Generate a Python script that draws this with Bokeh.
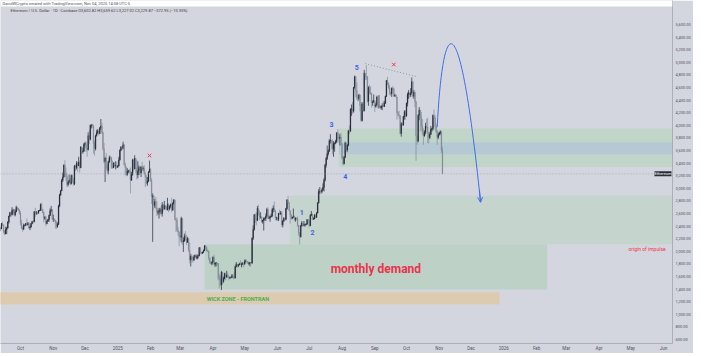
import pandas as pd
import numpy as np
from bokeh.plotting import figure
from bokeh.models import (ColumnDataSource, FixedTicker, NumeralTickFormatter, Span,
                          Label, Arrow, OpenHead, BoxAnnotation)
from bokeh.core.properties import value
from bokeh.embed import file_html
from bokeh.resources import INLINE

# ---------------- data: ETH/USD daily candles (Coinbase, 1D) ----------------
start_date = "2024-09-12"
first_open = 2360

close_sep24 = [2360,2440,2415,2315,2275,2345,2370,2465,2560,2615,2580,2645,2655,2580,2630,2695,2680,2660,2600]
high_sep24 = [2390,2450,2470,2430,2335,2390,2390,2480,2565,2625,2620,2700,2675,2670,2665,2725,2705,2690,2665]
low_sep24 = [2320,2350,2400,2290,2260,2270,2275,2360,2440,2545,2540,2570,2590,2560,2555,2620,2650,2640,2585]

close_oct24 = [2450,2365,2350,2415,2415,2440,2420,2440,2370,2385,2440,2475,2470,2630,2605,2610,2605,2645,2650,2745,2665,2620,2525,2535,2440,2480,2505,2570,2640,2660,2515]
high_oct24 = [2640,2500,2400,2440,2425,2450,2520,2465,2465,2410,2450,2485,2485,2640,2690,2640,2625,2655,2660,2760,2770,2675,2630,2560,2565,2500,2510,2580,2680,2720,2670]
low_oct24 = [2410,2350,2310,2340,2395,2400,2410,2410,2355,2335,2375,2430,2440,2460,2550,2580,2580,2600,2635,2640,2640,2600,2460,2500,2400,2430,2470,2465,2560,2620,2500]

close_nov24 = [2515,2495,2455,2395,2425,2720,2895,2960,3130,3180,3370,3245,3185,3060,3095,3130,3075,3205,3105,3070,3355,3330,3395,3360,3415,3325,3655,3580,3590,3700]
high_nov24 = [2585,2520,2495,2480,2460,2740,2915,2975,3150,3250,3380,3445,3330,3225,3120,3220,3160,3220,3215,3165,3370,3375,3430,3425,3500,3440,3670,3660,3640,3720]
low_nov24 = [2465,2480,2360,2355,2375,2420,2700,2880,2955,3100,3170,3210,3120,3020,3030,3080,3050,3060,3090,3040,3050,3275,3300,3260,3350,3250,3320,3550,3550,3580]

close_dec24 = [3710,3635,3615,3835,3780,4000,4005,4000,3710,3630,3835,3880,3910,3870,3960,3990,3885,3630,3425,3480,3330,3280,3420,3490,3485,3335,3330,3400,3355,3360,3335]
high_dec24 = [3740,3740,3640,3890,3920,4010,4020,4025,4010,3760,3850,3930,3940,3930,3970,4100,4040,3900,3720,3500,3560,3380,3440,3520,3520,3500,3440,3415,3410,3430,3420]
low_dec24 = [3660,3580,3500,3600,3700,3760,3950,3960,3550,3520,3600,3820,3860,3840,3860,3930,3865,3600,3400,3100,3310,3240,3220,3400,3440,3310,3310,3320,3340,3300,3320]

close_jan25 = [3355,3450,3605,3655,3635,3690,3380,3330,3220,3265,3280,3265,3130,3220,3450,3310,3475,3310,3215,3280,3330,3245,3340,3310,3315,3230,3180,3080,3115,3250,3300]
high_jan25 = [3370,3500,3620,3670,3670,3740,3700,3410,3350,3320,3295,3300,3330,3260,3470,3470,3525,3480,3450,3430,3360,3360,3350,3420,3350,3370,3260,3210,3180,3275,3440]
low_jan25 = [3325,3350,3440,3590,3610,3620,3360,3210,3190,3200,3240,3240,2920,3120,3200,3270,3300,3240,3140,3160,3210,3230,3180,3290,3270,3220,3020,3060,3040,3100,3260]

close_feb25 = [3120,2870,2880,2730,2785,2690,2620,2630,2630,2660,2600,2740,2675,2725,2690,2660,2745,2670,2715,2740,2660,2760,2815,2510,2495,2335,2305,2235]
high_feb25 = [3320,3160,2920,2890,2830,2860,2800,2660,2690,2690,2720,2780,2750,2800,2730,2720,2850,2760,2730,2760,2850,2780,2830,2820,2530,2540,2390,2320]
low_feb25 = [3100,2750,2150,2650,2690,2670,2560,2580,2520,2590,2570,2550,2640,2660,2660,2650,2650,2620,2650,2690,2620,2640,2740,2490,2310,2310,2250,2080]

close_mar25 = [2220,2520,2150,2170,2240,2200,2140,2200,2020,1865,1920,1910,1860,1910,1935,1890,1925,1930,2055,1985,1965,1985,2010,2085,2065,2010,2005,1895,1830,1805,1825]
high_mar25 = [2260,2550,2530,2220,2280,2320,2260,2230,2210,2140,1960,1950,1920,1940,1950,1945,1955,1940,2070,2070,1990,1995,2030,2100,2100,2080,2040,2010,1905,1850,1840]
low_mar25 = [2170,2140,2100,1990,2150,2170,2100,2140,1990,1810,1760,1830,1820,1850,1900,1880,1870,1885,1920,1960,1950,1960,1975,2005,2030,1995,1985,1860,1800,1790,1780]

close_apr25 = [1905,1795,1815,1815,1805,1580,1555,1470,1670,1525,1570,1645,1595,1625,1590,1575,1585,1585,1615,1585,1575,1755,1795,1770,1785,1800,1795,1800,1800,1795]
high_apr25 = [1920,1950,1825,1830,1820,1815,1640,1620,1690,1670,1600,1660,1660,1690,1660,1610,1600,1595,1640,1610,1660,1775,1830,1800,1800,1820,1860,1820,1830,1820]
low_apr25 = [1820,1780,1755,1760,1780,1540,1410,1450,1385,1470,1500,1555,1540,1580,1580,1540,1565,1570,1580,1560,1560,1570,1750,1740,1750,1780,1780,1745,1780,1745]

close_may25 = [1840,1840,1835,1805,1815,1820,1810,2210,2345,2580,2515,2495,2680,2610,2545,2545,2475,2490,2520,2525,2555,2665,2525,2530,2550,2565,2660,2680,2635,2530,2530]
high_may25 = [1870,1870,1850,1845,1830,1830,1830,2220,2410,2590,2600,2620,2720,2740,2650,2620,2560,2500,2540,2540,2600,2690,2700,2570,2560,2600,2690,2730,2790,2660,2550]
low_may25 = [1790,1825,1820,1800,1780,1760,1790,1810,2180,2330,2450,2410,2480,2570,2500,2520,2450,2440,2330,2490,2480,2550,2520,2510,2470,2540,2540,2620,2620,2500,2490]

close_jun25 = [2510,2605,2590,2610,2420,2480,2525,2510,2680,2815,2770,2645,2575,2525,2545,2550,2510,2525,2520,2410,2295,2230,2410,2450,2415,2420,2425,2435,2505,2485]
high_jun25 = [2540,2610,2660,2640,2640,2500,2540,2540,2690,2830,2880,2780,2650,2590,2550,2680,2570,2540,2540,2550,2420,2300,2420,2480,2460,2480,2440,2440,2510,2510]
low_jun25 = [2480,2480,2580,2580,2390,2380,2470,2490,2490,2660,2750,2640,2440,2500,2510,2530,2480,2470,2490,2390,2250,2110,2220,2390,2390,2400,2390,2410,2420,2460]

close_jul25 = [2405,2570,2590,2510,2515,2570,2540,2610,2770,2950,2955,2945,2975,3015,3130,3370,3475,3550,3590,3755,3760,3745,3620,3710,3715,3745,3880,3800,3795,3810,3700]
high_jul25 = [2490,2590,2640,2600,2540,2590,2590,2620,2780,2990,3020,2970,3000,3080,3160,3390,3500,3680,3620,3780,3860,3760,3780,3750,3730,3770,3890,3940,3880,3860,3880]
low_jul25 = [2380,2400,2560,2500,2500,2510,2520,2530,2600,2760,2910,2910,2920,2960,2950,3110,3330,3450,3520,3580,3710,3620,3540,3500,3580,3700,3720,3780,3730,3680,3680]

close_aug25 = [3480,3390,3495,3720,3610,3685,3910,3905,4255,4260,4225,4600,4770,4550,4440,4425,4480,4315,4075,4340,4230,4830,4780,4770,4380,4600,4510,4505,4360,4370,4390]
high_aug25 = [3720,3520,3510,3740,3730,3700,3930,4000,4270,4330,4370,4610,4790,4780,4680,4480,4500,4490,4360,4370,4370,4880,4830,4955,4780,4620,4640,4620,4520,4400,4490]
low_aug25 = [3460,3360,3380,3480,3570,3580,3670,3860,3900,4150,4180,4200,4580,4450,4400,4380,4390,4220,4060,4060,4210,4220,4720,4720,4360,4310,4500,4480,4280,4310,4360]

close_sep25 = [4300,4325,4450,4300,4300,4275,4305,4310,4300,4350,4460,4710,4670,4600,4520,4500,4590,4580,4470,4480,4450,4200,4165,4150,3870,4030,4010,4140,4215,4145]
high_sep25 = [4390,4360,4470,4460,4480,4320,4310,4350,4380,4390,4470,4720,4770,4680,4640,4520,4600,4620,4600,4500,4490,4450,4230,4230,4160,4050,4040,4150,4240,4240]
low_sep25 = [4210,4280,4320,4260,4270,4270,4250,4240,4290,4290,4340,4450,4640,4580,4480,4470,4450,4560,4450,4450,4440,4090,4140,4100,3860,3820,3990,3990,4090,4090]

close_oct25 = [4350,4490,4515,4480,4515,4690,4460,4525,4370,3835,3750,4155,4245,4125,3990,3885,3830,3890,3985,3975,3875,3805,3855,3935,3950,4160,4120,3980,3900,3810,3850]
high_oct25 = [4360,4520,4560,4520,4590,4760,4700,4560,4530,4390,3820,4180,4290,4240,4210,4100,3950,3920,4040,4100,4120,3900,3890,3990,3960,4170,4250,4160,4030,3930,3880]
low_oct25 = [4140,4300,4420,4440,4450,4500,4430,4420,4290,3435,3690,3730,4080,3900,3920,3840,3690,3820,3860,3950,3720,3710,3780,3850,3900,3920,4100,3930,3880,3690,3780]

close_nov25 = [3880,3895,3602.82,3229.87]
high_nov25 = [3900,3920,3910,3659.62]
low_nov25 = [3840,3850,3560,3227.02]

close = (close_sep24 + close_oct24 + close_nov24 + close_dec24 + close_jan25 + close_feb25 +
         close_mar25 + close_apr25 + close_may25 + close_jun25 + close_jul25 + close_aug25 +
         close_sep25 + close_oct25 + close_nov25)
high = (high_sep24 + high_oct24 + high_nov24 + high_dec24 + high_jan25 + high_feb25 +
        high_mar25 + high_apr25 + high_may25 + high_jun25 + high_jul25 + high_aug25 +
        high_sep25 + high_oct25 + high_nov25)
low = (low_sep24 + low_oct24 + low_nov24 + low_dec24 + low_jan25 + low_feb25 +
       low_mar25 + low_apr25 + low_may25 + low_jun25 + low_jul25 + low_aug25 +
       low_sep25 + low_oct25 + low_nov25)

# time axis
month_ticks = ["2024-10-01","2024-11-01","2024-12-01","2025-01-01","2025-02-01","2025-03-01",
               "2025-04-01","2025-05-01","2025-06-01","2025-07-01","2025-08-01","2025-09-01",
               "2025-10-01","2025-11-01","2025-12-01","2026-01-01","2026-02-01","2026-03-01",
               "2026-04-01","2026-05-01","2026-06-01"]
month_labels = ["Oct","Nov","Dec","2025","Feb","Mar","Apr","May","Jun","Jul","Aug","Sep",
                "Oct","Nov","Dec","2026","Feb","Mar","Apr","May","Jun"]
price_ticks = list(range(600, 5601, 200))

# drawn zones
zone_x0 = ["2024-09-01", "2025-03-24", "2025-06-13", "2025-07-29", "2025-07-29"]
zone_x1 = ["2025-12-28", "2026-02-11", "2026-08-01", "2026-08-01", "2026-08-01"]
zone_top = [1350, 2113, 2885, 3950, 3730]
zone_bottom = [1155, 1395, 2113, 3340, 3540]
zone_color = ["#dccbb0", "#bdd1c6", "#c6d4ce", "#c2d5c9", "#b4c9d3"]

# wave count labels
wave_text = ["1", "2", "3", "4", "5"]
wave_date = ["2025-06-24", "2025-07-04", "2025-07-22", "2025-08-04", "2025-08-15"]
wave_price = [2616, 2295, 4010, 3187, 4917]

# red X marks
x_mark_date = ["2025-01-31", "2025-09-19"]
x_mark_price = [3520, 4965]

# dotted trend line
trend_date = ["2025-08-23", "2025-10-10"]
trend_price = [4980, 4775]

# projected arc (start, control1, control2, end) and arrow tip segment
arc_date = ["2025-10-30", "2025-11-05", "2025-11-21", "2025-12-10"]
arc_price = [3970, 5900, 5900, 2779]
arrow_date = ["2025-12-09", "2025-12-10"]
arrow_price = [2968, 2779]

# text notes
demand_note = ("monthly demand", "2025-09-02", 1727)
wick_note = ("WICK ZONE - FRONTRAN", "2025-03-26", 1251)
origin_note = ("origin of impulse", "2026-06-03", 2044)
last_price = close[-1]

# ---------------- build ----------------
origin = pd.Timestamp("2024-10-01")
def day(s):
    return float((pd.Timestamp(s) - origin).days)

dates = pd.date_range(start_date, periods=len(close), freq="D")
xd = np.array((dates - origin).days, dtype=float)
c_arr = np.array(close, dtype=float)
o_arr = np.array([first_open] + close[:-1], dtype=float)
h_arr = np.array(high, dtype=float)
l_arr = np.array(low, dtype=float)
up = c_arr >= o_arr
UP_COL = "#1f2733"
DN_COL = "#838c99"
col = np.where(up, UP_COL, DN_COL)

src = ColumnDataSource(dict(x=xd, top=np.maximum(o_arr, c_arr), bottom=np.minimum(o_arr, c_arr),
                            high=h_arr, low=l_arr, color=col))

X0, X1 = -18.9, 616.5
Y0, Y1 = 537, 5981
BG = "#d3d6de"

p = figure(frame_width=672, frame_height=343, x_range=(X0, X1), y_range=(Y0, Y1),
           y_axis_location="right", output_backend="svg", toolbar_location=None,
           min_border=0, min_border_left=0, min_border_top=0, min_border_right=0,
           min_border_bottom=0)
p.background_fill_color = BG
p.border_fill_color = BG
p.outline_line_color = None
p.grid.grid_line_color = None

tick_days = [day(t) for t in month_ticks]
p.xaxis.ticker = FixedTicker(ticks=tick_days)
p.xaxis.major_label_overrides = {d: lbl for d, lbl in zip(tick_days, month_labels)}
p.yaxis.ticker = FixedTicker(ticks=price_ticks)
p.yaxis.formatter = NumeralTickFormatter(format="0,0.00")
for ax in (p.xaxis[0], p.yaxis[0]):
    ax.axis_line_color = "#9ea2ab"
    ax.axis_line_width = 0.8
    ax.major_tick_line_color = None
    ax.minor_tick_line_color = None
    ax.major_tick_out = 0
    ax.major_tick_in = 0
    ax.minor_tick_out = 0
    ax.major_label_text_font = "Roboto"
    ax.major_label_text_color = "#50535e"
p.xaxis.major_label_text_font_size = "4.5px"
p.xaxis.major_label_standoff = 2
p.yaxis.major_label_text_font_size = "4px"
p.yaxis.major_label_standoff = 3

# white strip behind the attribution line
p.add_layout(BoxAnnotation(bottom=5886, fill_color="white", fill_alpha=1, line_color=None))

# zones
p.quad(left=[day(d) for d in zone_x0], right=[day(d) for d in zone_x1],
       top=zone_top, bottom=zone_bottom, fill_color=zone_color, line_color=None)

# current price line
p.add_layout(Span(location=last_price, dimension="width", line_color="#8a8e98",
                  line_width=0.6, line_dash="1 2"))

# candles
p.segment(x0="x", y0="high", x1="x", y1="low", source=src, line_color="color", line_width=0.7)
p.vbar(x="x", width=0.72, top="top", bottom="bottom", source=src, fill_color="color",
       line_color="color", line_width=0.3)

# trend line
p.line([day(d) for d in trend_date], trend_price, line_color="#7d818b", line_width=0.8,
       line_dash="1 2")

# X marks
p.scatter([day(d) for d in x_mark_date], x_mark_price, marker="x", size=5,
          line_color="#f23645", line_width=1)

# wave labels
p.text([day(d) for d in wave_date], wave_price, text=wave_text, text_color="#3a67e0",
       text_font=value("Roboto"), text_font_style="bold", text_font_size="7px",
       text_align="center", text_baseline="middle")

# projection arc
BLUE = "#3f6fe8"
p.bezier(x0=[day(arc_date[0])], y0=[arc_price[0]], cx0=[day(arc_date[1])], cy0=[arc_price[1]],
         cx1=[day(arc_date[2])], cy1=[arc_price[2]], x1=[day(arc_date[3])], y1=[arc_price[3]],
         line_color=BLUE, line_width=1)
p.add_layout(Arrow(end=OpenHead(size=5, line_color=BLUE, line_width=1),
                   x_start=day(arrow_date[0]), y_start=arrow_price[0],
                   x_end=day(arrow_date[1]), y_end=arrow_price[1],
                   line_color=BLUE, line_width=1))

# notes
p.text([day(demand_note[1])], [demand_note[2]], text=[demand_note[0]], text_color="#e8344a",
       text_font=value("Roboto"), text_font_style="bold", text_font_size="12px",
       text_align="center", text_baseline="middle")
p.text([day(wick_note[1])], [wick_note[2]], text=[wick_note[0]], text_color="#4caf50",
       text_font=value("Roboto"), text_font_style="bold", text_font_size="5.5px",
       text_align="left", text_baseline="middle")
p.text([day(origin_note[1])], [origin_note[2]], text=[origin_note[0]], text_color="#f23645",
       text_font=value("Roboto"), text_font_size="5px",
       text_align="right", text_baseline="middle")

# header texts
p.add_layout(Label(x=X0, y=5933, text="DavidWCrypto created with TradingView.com, Nov 04, 2025 14:08 UTC-5",
                   text_font="Roboto", text_font_size="4px", text_color="#50535e",
                   text_baseline="middle", x_offset=2))
p.add_layout(Label(x=X0, y=5822,
                   text="Ethereum / U.S. Dollar · 1D · Coinbase  O3,602.82 H3,659.62 L3,227.02 C3,229.87 −372.95 (−10.35%)",
                   text_font="Roboto", text_font_size="4px", text_color="#3b3e47",
                   text_baseline="middle", x_offset=10))

# current price tag at the scale edge
p.add_layout(Label(x=X1, y=last_price, text="Ethereum", text_font="Roboto", text_font_size="4px",
                   text_color="white", text_align="right", text_baseline="middle",
                   background_fill_color="#2a2e39", x_offset=-1))

open("out.html", "w").write(file_html(p, INLINE))
